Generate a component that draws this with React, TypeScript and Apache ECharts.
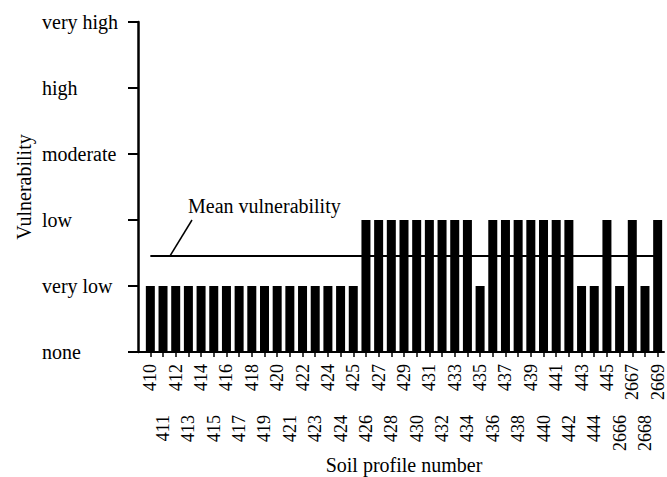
import React, { useEffect, useRef } from "react";
import * as echarts from "echarts";

const categories: string[] = [
  "410", "411", "412", "413", "414", "415", "416", "417", "418", "419",
  "420", "421", "422", "423", "424", "424", "425", "426", "427", "428",
  "429", "430", "431", "432", "433", "434", "435", "436", "437", "438",
  "439", "440", "441", "442", "443", "444", "445", "2666", "2667", "2668", "2669",
];

// 0 none, 1 very low, 2 low, 3 moderate, 4 high, 5 very high
const vulnerability: number[] = [
  1, 1, 1, 1, 1, 1, 1, 1, 1, 1,
  1, 1, 1, 1, 1, 1, 1, 2, 2, 2,
  2, 2, 2, 2, 2, 2, 1, 2, 2, 2,
  2, 2, 2, 2, 1, 1, 2, 1, 2, 1, 2,
];

const levelLabels: string[] = ["none", "very low", "low", "moderate", "high", "very high"];

const FONT = "'Liberation Serif', 'Times New Roman', serif";

export default function App() {
  const ref = useRef<HTMLDivElement>(null);

  useEffect(() => {
    if (!ref.current) return;
    const chart = echarts.init(ref.current, null, { renderer: "svg" });
    const mean = vulnerability.reduce((a, b) => a + b, 0) / vulnerability.length;

    chart.setOption({
      animation: false,
      backgroundColor: "#fff",
      grid: { left: 144, right: 3, top: 22, bottom: 125, containLabel: false, outerBoundsMode: "none" },
      xAxis: [
        {
          type: "category",
          data: categories,
          position: "bottom",
          boundaryGap: true,
          axisLine: { show: true, lineStyle: { color: "#000", width: 2 } },
          axisTick: { show: true, interval: 0, alignWithLabel: true, length: 5, lineStyle: { color: "#000", width: 1.5 } },
          axisLabel: {
            interval: (i: number) => i % 2 === 0,
            rotate: 90,
            margin: 12,
            color: "#000",
            fontFamily: FONT,
            fontSize: 18,
          },
          name: "Soil profile number",
          nameLocation: "middle",
          nameGap: 103,
          nameMoveOverlap: false,
          nameTextStyle: { color: "#000", fontFamily: FONT, fontSize: 20 },
          splitLine: { show: false },
        },
        {
          type: "category",
          data: categories,
          position: "bottom",
          boundaryGap: true,
          axisLine: { show: false },
          axisTick: { show: false },
          axisLabel: {
            interval: (i: number) => i % 2 === 1,
            rotate: 90,
            margin: 63,
            color: "#000",
            fontFamily: FONT,
            fontSize: 18,
          },
          splitLine: { show: false },
        },
      ],
      yAxis: {
        type: "value",
        min: 0,
        max: 5,
        interval: 1,
        offset: 6,
        axisLine: { show: true, lineStyle: { color: "#000", width: 2.5 } },
        axisTick: { show: true, length: 10, lineStyle: { color: "#000", width: 2 } },
        splitLine: { show: false },
        axisLabel: {
          formatter: (v: number) => levelLabels[Math.round(v)] ?? "",
          align: "left",
          margin: 96,
          color: "#000",
          fontFamily: FONT,
          fontSize: 20,
        },
        name: "Vulnerability",
        nameLocation: "middle",
        nameRotate: 90,
        nameGap: 104,
        nameMoveOverlap: false,
        nameTextStyle: { color: "#000", fontFamily: FONT, fontSize: 20 },
      },
      series: [
        {
          type: "bar",
          xAxisIndex: 0,
          data: vulnerability,
          barWidth: 9,
          itemStyle: { color: "#000" },
          markLine: {
            silent: true,
            symbol: "none",
            label: { show: false },
            lineStyle: { color: "#000", width: 2, type: "solid" },
            data: [
              [
                { coord: [0, mean] },
                { coord: [categories.length - 1, mean] },
              ],
            ],
          },
        },
      ],
      graphic: [
        {
          type: "line",
          shape: { x1: 137, y1: 352, x2: 146, y2: 352 },
          style: { stroke: "#000", lineWidth: 2 },
        },
        {
          type: "line",
          shape: { x1: 170, y1: 256, x2: 192, y2: 220 },
          style: { stroke: "#000", lineWidth: 1.5 },
        },
        {
          type: "text",
          x: 188,
          y: 206,
          style: {
            text: "Mean vulnerability",
            fill: "#000",
            font: `20px ${FONT}`,
            align: "left",
            verticalAlign: "middle",
          },
        },
      ],
    });

    return () => chart.dispose();
  }, []);

  return (
    <div
      ref={ref}
      style={{ position: "fixed", left: 0, top: 0, width: 667, height: 477, background: "#fff" }}
    />
  );
}
